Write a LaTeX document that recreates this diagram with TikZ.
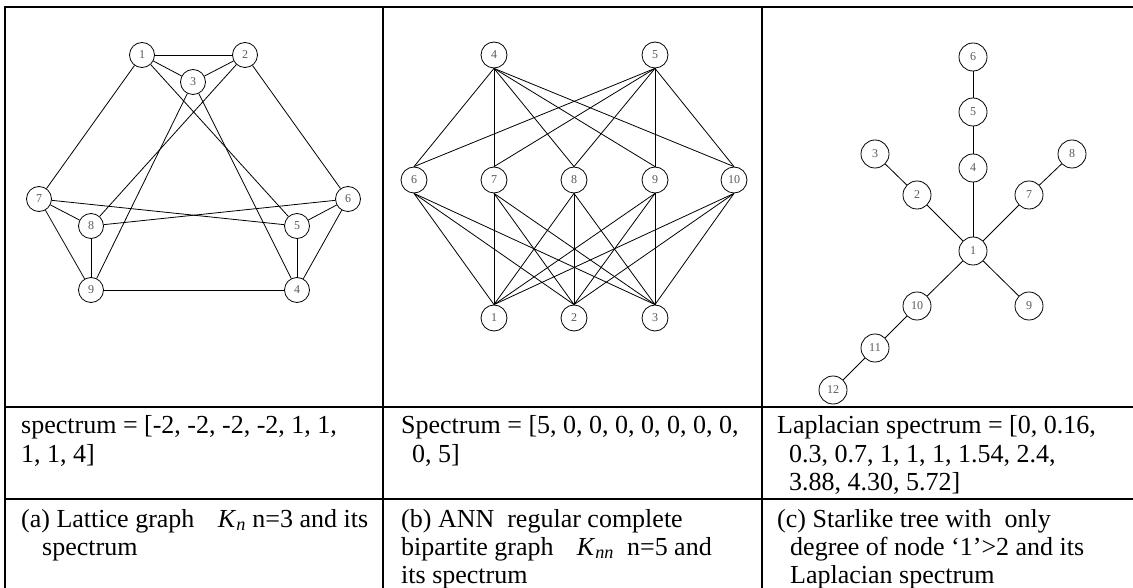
\documentclass[tikz,border=0pt]{standalone}
\usepackage{fontspec}
\setmainfont{Liberation Serif}
\begin{document}
\begin{tikzpicture}[x=1pt,y=-1pt,
  vtx/.style={circle,draw,line width=0.8pt,minimum size=25pt,inner sep=0pt,font=\fontsize{12}{12}\selectfont,text=black!65},
  vtxb/.style={vtx,minimum size=26pt},
  vtxc/.style={vtx,minimum size=28pt},
  edge/.style={line width=0.8pt},
  rule/.style={line width=2pt},
  txt/.style={anchor=base west,inner sep=0pt,font=\fontsize{26}{28.5}\selectfont}]
\useasboundingbox (0,0) rectangle (1133,588);
% table rules
\draw[rule] (5,588) -- (5,7) -- (1133,7);
\draw[rule] (5,407) -- (1133,407);
\draw[rule] (5,499) -- (1133,499);
\draw[rule] (383,7) -- (383,588);
\draw[rule] (762,7) -- (762,588);
% graph (a)
\node[vtx] (a1) at (142,55) {1};
\node[vtx] (a2) at (245,55) {2};
\node[vtx] (a3) at (193,82) {3};
\node[vtx] (a7) at (39,199) {7};
\node[vtx] (a8) at (91,226) {8};
\node[vtx] (a6) at (348,199) {6};
\node[vtx] (a5) at (297,226) {5};
\node[vtx] (a9) at (91,290) {9};
\node[vtx] (a4) at (297,290) {4};
\foreach \u/\v in {1/2,1/3,2/3,1/7,1/5,2/6,2/8,3/9,3/4,7/8,7/9,7/5,8/6,8/9,6/5,6/4,5/4,9/4}
  \draw[edge] (a\u) -- (a\v);
% graph (b)
\node[vtxb] (b4) at (494,55) {4};
\node[vtxb] (b5) at (655,55) {5};
\node[vtxb] (b6) at (414,180) {6};
\node[vtxb] (b7) at (494,180) {7};
\node[vtxb] (b8) at (574,180) {8};
\node[vtxb] (b9) at (655,180) {9};
\node[vtxb] (b10) at (734,180) {10};
\node[vtxb] (b1) at (494,318) {1};
\node[vtxb] (b2) at (574,318) {2};
\node[vtxb] (b3) at (655,318) {3};
\foreach \u in {4,5}
  \foreach \v in {6,7,8,9,10}
    \draw[edge] (b\u.south) -- (b\v.north);
\foreach \u in {6,7,8,9,10}
  \foreach \v in {1,2,3}
    \draw[edge] (b\u.south) -- (b\v.north);
% graph (c)
\node[vtxc] (c6) at (973,57) {6};
\node[vtxc] (c5) at (973,112) {5};
\node[vtxc] (c4) at (973,168) {4};
\node[vtxc] (c3) at (875,154) {3};
\node[vtxc] (c2) at (917,195) {2};
\node[vtxc] (c8) at (1072,154) {8};
\node[vtxc] (c7) at (1029,195) {7};
\node[vtxc] (c1) at (973,251) {1};
\node[vtxc] (c10) at (917,306) {10};
\node[vtxc] (c9) at (1029,306) {9};
\node[vtxc] (c11) at (875,348) {11};
\node[vtxc] (c12) at (833,390) {12};
\foreach \u/\v in {6/5,5/4,4/1,3/2,2/1,8/7,7/1,1/10,1/9,10/11,11/12}
  \draw[edge] (c\u) -- (c\v);
% texts
\node[txt] (t1a) at (21,433) {spectrum = [-2, -2, -2, -2, 1, 1,};
\node[txt] (t1b) at (21,462) {1, 1, 4]};
\node[txt] (t2a) at (401,433) {Spectrum = [5, 0, 0, 0, 0, 0, 0, 0,};
\node[txt] (t2b) at (412,462) {0, 5]};
\node[txt] (t3a) at (777,433) {Laplacian spectrum = [0, 0.16,};
\node[txt] (t3b) at (789,462) {0.3, 0.7, 1, 1, 1, 1.54, 2.4,};
\node[txt] (t3c) at (789,490) {3.88, 4.30, 5.72]};
\node[txt] (u1a) at (21,527) {(a) Lattice graph\hspace{0.9em}\textit{K}\textsubscript{\textit{n}} n=3 and its};
\node[txt] (u1b) at (42,555) {spectrum};
\node[txt] (u2a) at (401,527) {(b) ANN\hspace{0.5em}regular complete};
\node[txt] (u2b) at (401,555) {bipartite graph\hspace{0.9em}\textit{K}\textsubscript{\textit{nn}}\hspace{0.5em}n=5 and};
\node[txt] (u2c) at (401,583) {its spectrum};
\node[txt] (u3a) at (777,527) {(c) Starlike tree with\hspace{0.5em}only};
\node[txt] (u3b) at (790,555) {degree of node `1'>2 and its};
\node[txt] (u3c) at (790,583) {Laplacian spectrum};
\end{tikzpicture}
\end{document}
